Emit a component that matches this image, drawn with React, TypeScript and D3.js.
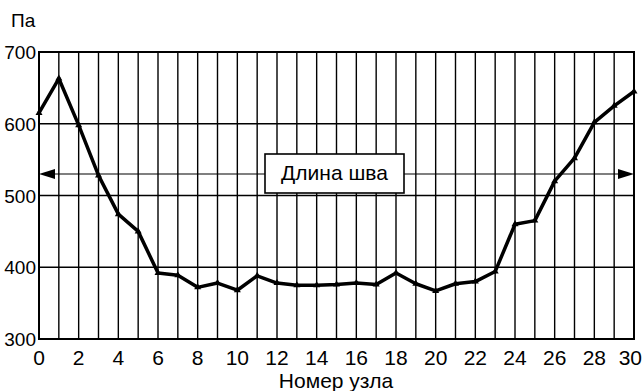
import React from 'react';
import * as d3 from 'd3';

// node numbers and pressure, Pa
const nodes = d3.range(0, 31);
const pressure = [615, 663, 598, 528, 474, 450, 392, 389, 372, 378, 368, 388, 378, 375, 375, 376, 378, 376, 392, 377, 367, 377, 380, 394, 460, 465, 520, 552, 602, 625, 645];
const yTicks = [300, 400, 500, 600, 700];
const xTicks = d3.range(0, 31, 2);
const seamLevel = 530;

const W = 644;
const H = 391;
const m = { left: 39, right: 10, top: 52, bottom: 52 };

const App = () => {
  const x = d3.scaleLinear().domain([0, 30]).range([m.left, W - m.right]);
  const y = d3.scaleLinear().domain([300, 700]).range([H - m.bottom, m.top]);
  const line = d3.line<number>().x((d, i) => x(nodes[i])).y(d => y(d));
  const font = 'Liberation Sans, Arial, sans-serif';
  const ya = y(seamLevel);
  const boxL = 265, boxR = 404;

  return (
    <svg width={W} height={H} style={{ position: 'absolute', left: 0, top: 0 }}>
      <rect width={W} height={H} fill="#fff" />
      {nodes.map(n => (
        <line key={'v' + n} x1={x(n)} x2={x(n)} y1={y(700)} y2={y(300)} stroke="#000" strokeWidth={1.4} />
      ))}
      {yTicks.map(t => (
        <line key={'h' + t} x1={x(0)} x2={x(30)} y1={y(t)} y2={y(t)} stroke="#000" strokeWidth={1.4} />
      ))}
      <rect x={x(0)} y={y(700)} width={x(30) - x(0)} height={y(300) - y(700)} fill="none" stroke="#000" strokeWidth={2} />

      {/* seam length arrow */}
      <line x1={x(0) + 8} x2={x(30) - 8} y1={ya} y2={ya} stroke="#000" strokeWidth={1.2} />
      <path d={`M${x(0)},${ya} l16,-5 l0,10 z`} fill="#000" />
      <path d={`M${x(30)},${ya} l-16,-5 l0,10 z`} fill="#000" />
      <rect x={boxL} y={154} width={boxR - boxL} height={39} fill="#fff" stroke="#000" strokeWidth={1.6} />
      <text x={(boxL + boxR) / 2} y={180} textAnchor="middle" fontFamily={font} fontSize={21}>Длина шва</text>

      <path d={line(pressure) || ''} fill="none" stroke="#000" strokeWidth={3.5} strokeLinejoin="round" />
      {pressure.map((p, i) => (
        <path key={'m' + i} d={`M${x(nodes[i])},${y(p) - 4} l3.5,6 l-7,0 z`} fill="#000" />
      ))}

      {yTicks.map(t => (
        <text key={'yl' + t} x={36} y={y(t) + 7} textAnchor="end" fontFamily={font} fontSize={19}>{t}</text>
      ))}
      {xTicks.map(t => {
        const last = t === 30;
        return (
          <text key={'xl' + t} x={last ? W - 2 : x(t)} y={365} textAnchor={last ? 'end' : 'middle'} fontFamily={font} fontSize={21}>{t}</text>
        );
      })}
      <text x={11} y={27} fontFamily={font} fontSize={19}>Па</text>
      <text x={336} y={388} textAnchor="middle" fontFamily={font} fontSize={21}>Номер узла</text>
    </svg>
  );
};

export default App;
